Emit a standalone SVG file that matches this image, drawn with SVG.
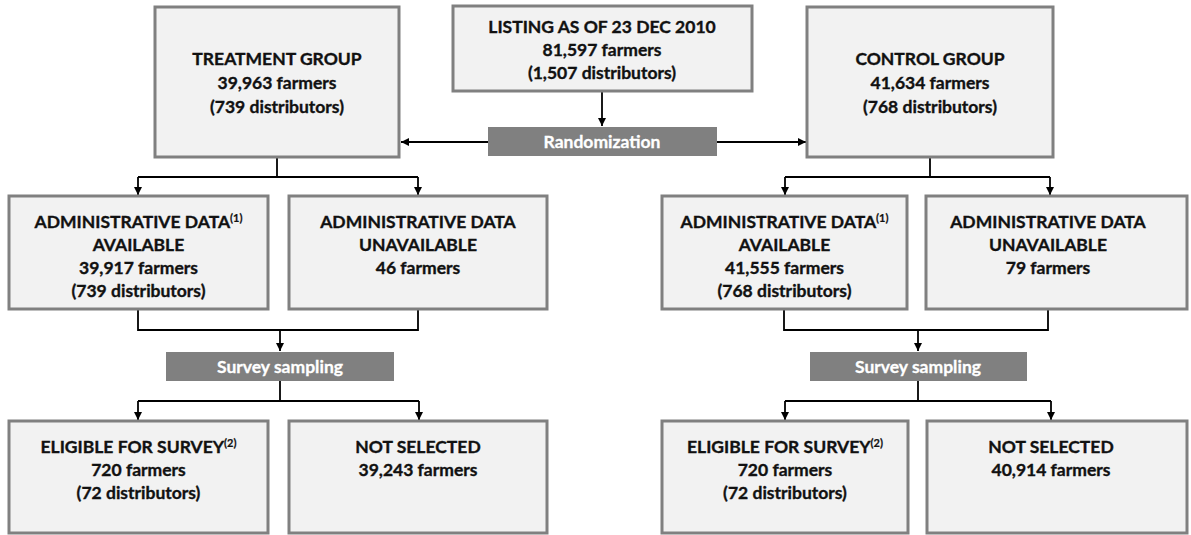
<svg xmlns="http://www.w3.org/2000/svg" width="1191" height="535" viewBox="0 0 1191 535">
<style>
.box{fill:#f2f2f2;stroke:#808080;stroke-width:3}
.bar{fill:#808080}
.t{font-family:"Lato","Liberation Sans",sans-serif;font-weight:bold;font-size:17.5px;fill:#111;stroke:#111;stroke-width:0.35;text-anchor:middle}
.w{font-family:"Lato","Liberation Sans",sans-serif;font-weight:bold;font-size:17.5px;fill:#fff;stroke:#fff;stroke-width:0.3;text-anchor:middle}
.sup{font-size:11px;stroke-width:0.2}
.c{fill:none;stroke:#000;stroke-width:1.8}
</style>
<defs>
<marker id="ah" viewBox="0 0 10 10" refX="10" refY="5" markerWidth="8" markerHeight="8" markerUnits="userSpaceOnUse" orient="auto">
<path d="M0,0 L10,5 L0,10 z" fill="#000"/>
</marker>
</defs>
<rect width="1191" height="535" fill="#fff"/>
<g id="connectors">
<path class="c" d="M602,91 V126" marker-end="url(#ah)"/>
<path class="c" d="M488,142 H401" marker-end="url(#ah)"/>
<path class="c" d="M717,142 H806" marker-end="url(#ah)"/>
<path class="c" d="M277,157 V177"/>
<path class="c" d="M138,177 H418"/>
<path class="c" d="M138,177 V195" marker-end="url(#ah)"/>
<path class="c" d="M418,177 V195" marker-end="url(#ah)"/>
<path class="c" d="M930,157 V177"/>
<path class="c" d="M785,177 H1050"/>
<path class="c" d="M785,177 V195" marker-end="url(#ah)"/>
<path class="c" d="M1050,177 V195" marker-end="url(#ah)"/>
<path class="c" d="M138,309 V330 H418 V309"/>
<path class="c" d="M280,330 V351" marker-end="url(#ah)"/>
<path class="c" d="M784,309 V330 H1048 V309"/>
<path class="c" d="M918,330 V351" marker-end="url(#ah)"/>
<path class="c" d="M280,381 V401"/>
<path class="c" d="M138,401 H419"/>
<path class="c" d="M138,401 V420" marker-end="url(#ah)"/>
<path class="c" d="M419,401 V420" marker-end="url(#ah)"/>
<path class="c" d="M918,381 V401"/>
<path class="c" d="M785,401 H1051"/>
<path class="c" d="M785,401 V420" marker-end="url(#ah)"/>
<path class="c" d="M1051,401 V420" marker-end="url(#ah)"/>
</g>
<g id="listing">
<rect class="box" x="453" y="6" width="299" height="85"/>
<text class="t" x="602" y="33">LISTING AS OF 23 DEC 2010</text>
<text class="t" x="602" y="56">81,597 farmers</text>
<text class="t" x="602" y="79">(1,507 distributors)</text>
</g>
<g id="randomization">
<rect class="bar" x="488" y="127" width="229" height="29"/>
<text class="w" x="602" y="148">Randomization</text>
</g>
<g id="treatment">
<rect class="box" x="155" y="7" width="244" height="150"/>
<text class="t" x="277" y="65">TREATMENT GROUP</text>
<text class="t" x="277" y="89">39,963 farmers</text>
<text class="t" x="277" y="113">(739 distributors)</text>
</g>
<g id="control">
<rect class="box" x="807" y="7" width="246" height="150"/>
<text class="t" x="930" y="65">CONTROL GROUP</text>
<text class="t" x="930" y="89">41,634 farmers</text>
<text class="t" x="930" y="113">(768 distributors)</text>
</g>
<g id="t-admin-avail">
<rect class="box" x="9" y="196" width="259" height="113"/>
<text class="t" x="138.5" y="228">ADMINISTRATIVE DATA<tspan class="sup" dy="-6">(1)</tspan></text>
<text class="t" x="138.5" y="251">AVAILABLE</text>
<text class="t" x="138.5" y="274">39,917 farmers</text>
<text class="t" x="138.5" y="297">(739 distributors)</text>
</g>
<g id="t-admin-unavail">
<rect class="box" x="289" y="196" width="258" height="113"/>
<text class="t" x="418" y="228">ADMINISTRATIVE DATA</text>
<text class="t" x="418" y="251">UNAVAILABLE</text>
<text class="t" x="418" y="274">46 farmers</text>
</g>
<g id="c-admin-avail">
<rect class="box" x="662" y="196" width="245" height="113"/>
<text class="t" x="784.5" y="228">ADMINISTRATIVE DATA<tspan class="sup" dy="-6">(1)</tspan></text>
<text class="t" x="784.5" y="251">AVAILABLE</text>
<text class="t" x="784.5" y="274">41,555 farmers</text>
<text class="t" x="784.5" y="297">(768 distributors)</text>
</g>
<g id="c-admin-unavail">
<rect class="box" x="926" y="196" width="261" height="113"/>
<text class="t" x="1048" y="228">ADMINISTRATIVE DATA</text>
<text class="t" x="1048" y="251">UNAVAILABLE</text>
<text class="t" x="1048" y="274">79 farmers</text>
</g>
<g id="t-survey">
<rect class="bar" x="166" y="352" width="228" height="29"/>
<text class="w" x="280" y="373">Survey sampling</text>
</g>
<g id="c-survey">
<rect class="bar" x="810" y="352" width="217" height="29"/>
<text class="w" x="918" y="373">Survey sampling</text>
</g>
<g id="t-eligible">
<rect class="box" x="9" y="421" width="259" height="112"/>
<text class="t" x="138.5" y="453">ELIGIBLE FOR SURVEY<tspan class="sup" dy="-6">(2)</tspan></text>
<text class="t" x="138.5" y="476">720 farmers</text>
<text class="t" x="138.5" y="499">(72 distributors)</text>
</g>
<g id="t-notselected">
<rect class="box" x="289" y="421" width="258" height="112"/>
<text class="t" x="418" y="453">NOT SELECTED</text>
<text class="t" x="418" y="476">39,243 farmers</text>
</g>
<g id="c-eligible">
<rect class="box" x="662" y="421" width="246" height="112"/>
<text class="t" x="785" y="453">ELIGIBLE FOR SURVEY<tspan class="sup" dy="-6">(2)</tspan></text>
<text class="t" x="785" y="476">720 farmers</text>
<text class="t" x="785" y="499">(72 distributors)</text>
</g>
<g id="c-notselected">
<rect class="box" x="927" y="421" width="260" height="112"/>
<text class="t" x="1051" y="453">NOT SELECTED</text>
<text class="t" x="1051" y="476">40,914 farmers</text>
</g>
</svg>
